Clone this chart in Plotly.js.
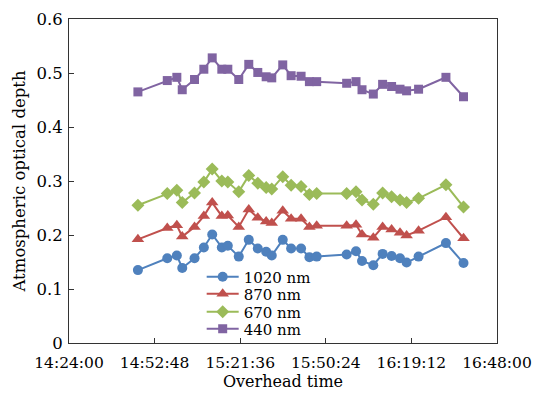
<!DOCTYPE html>
<html><head><meta charset="utf-8">
<script src="https://cdn.plot.ly/plotly-3.0.1.min.js"></script>
<style>html,body{margin:0;padding:0;background:#fff}#chart{width:544px;height:396px}</style>
</head><body><div id="chart"></div>
<script>
const times = ['14:47:11','14:57:04','15:00:17','15:02:06','15:06:14','15:09:22','15:12:11','15:15:25','15:17:26','15:21:07',
  '15:24:29','15:27:31','15:30:20','15:32:13','15:35:55','15:38:44','15:42:05','15:44:53','15:47:20','15:57:25',
  '16:00:34','16:02:35','16:06:23','16:09:31','16:12:32','16:15:22','16:17:35','16:21:37','16:30:49','16:36:44'];
const aod1020 = [0.135,0.157,0.162,0.139,0.157,0.177,0.201,0.177,0.180,0.160,0.191,0.175,0.169,0.162,0.191,0.175,0.175,0.159,0.160,0.164,0.170,0.152,0.144,0.165,0.161,0.157,0.149,0.160,0.185,0.148];
const aod870 = [0.192,0.213,0.218,0.197,0.215,0.235,0.260,0.235,0.236,0.215,0.247,0.232,0.225,0.222,0.245,0.230,0.230,0.215,0.217,0.217,0.219,0.201,0.195,0.215,0.210,0.204,0.199,0.208,0.233,0.194];
const aod670 = [0.255,0.277,0.283,0.260,0.278,0.298,0.322,0.300,0.298,0.280,0.310,0.296,0.288,0.285,0.308,0.292,0.290,0.275,0.277,0.277,0.280,0.265,0.257,0.278,0.271,0.265,0.260,0.268,0.293,0.252];
const aod440 = [0.465,0.486,0.492,0.469,0.488,0.507,0.528,0.507,0.507,0.488,0.516,0.501,0.493,0.491,0.515,0.495,0.494,0.484,0.484,0.481,0.484,0.469,0.461,0.479,0.475,0.470,0.467,0.470,0.492,0.456];
const seriesNames = ['1020 nm','870 nm','670 nm','440 nm'];
const xTickVals = ['14:24:00','14:52:48','15:21:36','15:50:24','16:19:12','16:48:00'];

const day = '2020-01-01 ';
const x = times.map(t => day + t);
const colors = ['#4F81BD','#C0504D','#9BBB59','#8064A2'];
const symbols = ['circle','triangle-up','diamond','square'];
const sizes = [10,11,10,9];
const ys = [aod1020, aod870, aod670, aod440];
const legendIds = ['legend','legend2','legend3','legend4'];
const traces = ys.map((y,i) => ({
  x: x, y: y, type: 'scatter', mode: 'lines+markers', name: seriesNames[i],
  line: {color: colors[i], width: 2},
  marker: {color: colors[i], symbol: symbols[i], size: sizes[i]},
  legend: legendIds[i]
}));
const fam = 'DejaVu Serif, serif';
const font = {family: fam, size: 15.5, color: '#000'};
const legendBase = (yPos) => ({x: 0.31, y: yPos, xanchor: 'left', yanchor: 'middle', bgcolor: 'rgba(0,0,0,0)',
  font: {family: fam, size: 15, color: '#000'}, borderwidth: 0, itemwidth: 32});
const toPaperY = (py) => (343 - py) / 324;
const layout = {
  width: 544, height: 396,
  margin: {l: 69, r: 47, t: 19, b: 53},
  paper_bgcolor: '#fff', plot_bgcolor: '#fff',
  font: font,
  showlegend: true,
  legend: legendBase(toPaperY(277)),
  legend2: legendBase(toPaperY(294)),
  legend3: legendBase(toPaperY(312)),
  legend4: legendBase(toPaperY(329)),
  xaxis: {
    type: 'date', range: [day + xTickVals[0], day + xTickVals[5]],
    tickmode: 'array', tickvals: xTickVals.map(t => day + t), ticktext: xTickVals,
    tickfont: {family: fam, size: 15.5, color: '#000'}, ticklabelstandoff: 5,
    ticks: 'inside', ticklen: 5, tickcolor: '#333', showline: true, linecolor: '#333', linewidth: 1, mirror: true,
    showgrid: false, zeroline: false,
    title: {text: 'Overhead time', font: {family: fam, size: 16, color: '#000'}, standoff: 4}
  },
  yaxis: {
    range: [0, 0.6], tickvals: [0,0.1,0.2,0.3,0.4,0.5,0.6], ticktext: ['0','0.1','0.2','0.3','0.4','0.5','0.6'],
    tickfont: {family: fam, size: 16.5, color: '#000'}, ticklabelstandoff: 2,
    ticks: 'inside', ticklen: 5, tickcolor: '#333', showline: true, linecolor: '#333', linewidth: 1, mirror: true,
    showgrid: false, zeroline: false,
    title: {text: 'Atmospheric optical depth', font: {family: fam, size: 16.5, color: '#000'}, standoff: 6}
  }
};
Plotly.newPlot('chart', traces, layout, {displayModeBar: false, staticPlot: true});
</script></body></html>
